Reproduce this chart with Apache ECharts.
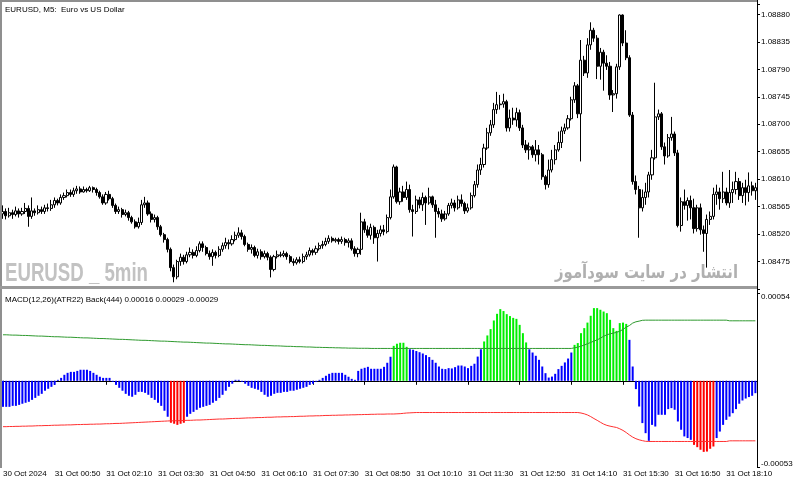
<!DOCTYPE html>
<html><head><meta charset="utf-8">
<script src="https://cdn.jsdelivr.net/npm/echarts@6/dist/echarts.min.js"></script>
<style>html,body{margin:0;padding:0;background:#fff}#c{width:800px;height:485px}</style>
</head><body><div id="c"></div><script>
const timeLabels = ['30 Oct 2024','31 Oct 00:50','31 Oct 02:10','31 Oct 03:30','31 Oct 04:50','31 Oct 06:10','31 Oct 07:30','31 Oct 08:50','31 Oct 10:10','31 Oct 11:30','31 Oct 12:50','31 Oct 14:10','31 Oct 15:30','31 Oct 16:50','31 Oct 18:10'];
const labelEvery = 16;
const priceTicks = ['1.08475','1.08520','1.08565','1.08610','1.08655','1.08700','1.08745','1.08790','1.08835','1.08880'];
const macdTicks = ['-0.00053','0.00054'];

const open = [
1.08553,1.08557,1.08550,1.08555,1.08552,1.08558,1.08553,1.08557,1.08562,1.08549,
1.08558,1.08555,1.08560,1.08557,1.08563,1.08562,1.08568,1.08575,1.08571,1.08580,
1.08583,1.08588,1.08585,1.08591,1.08594,1.08589,1.08593,1.08591,1.08596,1.08593,
1.08588,1.08581,1.08571,1.08585,1.08578,1.08567,1.08557,1.08560,1.08552,1.08555,
1.08547,1.08540,1.08532,1.08539,1.08568,1.08571,1.08553,1.08544,1.08547,1.08532,
1.08519,1.08511,1.08495,1.08465,1.08450,1.08475,1.08482,1.08475,1.08486,1.08490,
1.08485,1.08493,1.08504,1.08498,1.08488,1.08483,1.08490,1.08485,1.08495,1.08501,
1.08506,1.08504,1.08511,1.08518,1.08522,1.08516,1.08503,1.08495,1.08498,1.08485,
1.08491,1.08483,1.08488,1.08482,1.08462,1.08483,1.08486,1.08485,1.08488,1.08483,
1.08475,1.08473,1.08478,1.08475,1.08483,1.08486,1.08493,1.08490,1.08496,1.08501,
1.08503,1.08508,1.08513,1.08509,1.08511,1.08508,1.08511,1.08506,1.08509,1.08496,
1.08488,1.08495,1.08540,1.08527,1.08518,1.08531,1.08514,1.08521,1.08527,1.08524,
1.08547,1.08581,1.08630,1.08573,1.08589,1.08580,1.08593,1.08560,1.08557,1.08576,
1.08568,1.08580,1.08571,1.08581,1.08568,1.08557,1.08553,1.08545,1.08553,1.08567,
1.08571,1.08563,1.08576,1.08570,1.08558,1.08563,1.08583,1.08601,1.08625,1.08634,
1.08661,1.08686,1.08699,1.08724,1.08732,1.08733,1.08737,1.08694,1.08710,1.08707,
1.08719,1.08694,1.08666,1.08658,1.08663,1.08650,1.08658,1.08650,1.08614,1.08601,
1.08625,1.08642,1.08658,1.08670,1.08689,1.08694,1.08709,1.08740,1.08763,1.08717,
1.08805,1.08784,1.08830,1.08854,1.08841,1.08795,1.08818,1.08800,1.08795,1.08748,
1.08750,1.08794,1.08879,1.08833,1.08809,1.08715,1.08606,1.08593,1.08563,1.08580,
1.08589,1.08617,1.08645,1.08712,1.08717,1.08663,1.08648,1.08678,1.08684,1.08653,
1.08534,1.08573,1.08567,1.08575,1.08563,1.08529,1.08563,1.08527,1.08521,1.08544,
1.08549,1.08585,1.08589,1.08578,1.08589,1.08571,1.08588,1.08593,1.08606,1.08583,
1.08596,1.08588,1.08599,1.08591];
const close = [
1.08557,1.08550,1.08555,1.08552,1.08558,1.08553,1.08557,1.08562,1.08549,1.08558,
1.08555,1.08560,1.08557,1.08563,1.08562,1.08568,1.08575,1.08571,1.08580,1.08583,
1.08588,1.08585,1.08591,1.08594,1.08589,1.08593,1.08591,1.08596,1.08593,1.08588,
1.08581,1.08571,1.08585,1.08578,1.08567,1.08557,1.08560,1.08552,1.08555,1.08547,
1.08540,1.08532,1.08539,1.08568,1.08571,1.08553,1.08544,1.08547,1.08532,1.08519,
1.08511,1.08495,1.08465,1.08450,1.08475,1.08482,1.08475,1.08486,1.08490,1.08485,
1.08493,1.08504,1.08498,1.08488,1.08483,1.08490,1.08485,1.08495,1.08501,1.08506,
1.08504,1.08511,1.08518,1.08522,1.08516,1.08503,1.08495,1.08498,1.08485,1.08491,
1.08483,1.08488,1.08482,1.08462,1.08483,1.08486,1.08485,1.08488,1.08483,1.08475,
1.08473,1.08478,1.08475,1.08483,1.08486,1.08493,1.08490,1.08496,1.08501,1.08503,
1.08508,1.08513,1.08509,1.08511,1.08508,1.08511,1.08506,1.08509,1.08496,1.08488,
1.08495,1.08540,1.08527,1.08518,1.08531,1.08514,1.08521,1.08527,1.08524,1.08547,
1.08581,1.08630,1.08573,1.08589,1.08580,1.08593,1.08560,1.08557,1.08576,1.08568,
1.08580,1.08571,1.08581,1.08568,1.08557,1.08553,1.08545,1.08553,1.08567,1.08571,
1.08563,1.08576,1.08570,1.08558,1.08563,1.08583,1.08601,1.08625,1.08634,1.08661,
1.08686,1.08699,1.08724,1.08732,1.08733,1.08737,1.08694,1.08710,1.08707,1.08719,
1.08694,1.08666,1.08658,1.08663,1.08650,1.08658,1.08650,1.08614,1.08601,1.08625,
1.08642,1.08658,1.08670,1.08689,1.08694,1.08709,1.08740,1.08763,1.08717,1.08805,
1.08784,1.08830,1.08854,1.08841,1.08795,1.08818,1.08800,1.08795,1.08748,1.08750,
1.08794,1.08879,1.08833,1.08809,1.08715,1.08606,1.08593,1.08563,1.08580,1.08589,
1.08617,1.08645,1.08712,1.08717,1.08663,1.08648,1.08678,1.08684,1.08653,1.08534,
1.08573,1.08567,1.08575,1.08563,1.08529,1.08563,1.08527,1.08521,1.08544,1.08549,
1.08585,1.08589,1.08578,1.08589,1.08571,1.08588,1.08593,1.08606,1.08583,1.08596,
1.08588,1.08599,1.08591,1.08596];
const high = [
1.08567,1.08562,1.08563,1.08560,1.08565,1.08562,1.08563,1.08571,1.08567,1.08580,
1.08562,1.08567,1.08565,1.08568,1.08570,1.08576,1.08580,1.08578,1.08585,1.08588,
1.08593,1.08593,1.08596,1.08599,1.08598,1.08598,1.08596,1.08599,1.08598,1.08596,
1.08591,1.08585,1.08589,1.08591,1.08581,1.08570,1.08565,1.08563,1.08560,1.08558,
1.08550,1.08544,1.08547,1.08576,1.08581,1.08575,1.08557,1.08552,1.08550,1.08535,
1.08522,1.08514,1.08498,1.08470,1.08478,1.08488,1.08486,1.08491,1.08498,1.08495,
1.08500,1.08508,1.08508,1.08501,1.08493,1.08495,1.08493,1.08500,1.08506,1.08514,
1.08511,1.08518,1.08524,1.08531,1.08527,1.08519,1.08506,1.08503,1.08501,1.08496,
1.08495,1.08493,1.08491,1.08485,1.08486,1.08493,1.08491,1.08493,1.08491,1.08486,
1.08480,1.08482,1.08483,1.08488,1.08491,1.08498,1.08496,1.08501,1.08506,1.08509,
1.08514,1.08518,1.08516,1.08514,1.08514,1.08516,1.08514,1.08513,1.08513,1.08500,
1.08498,1.08555,1.08545,1.08534,1.08537,1.08534,1.08527,1.08534,1.08535,1.08552,
1.08593,1.08634,1.08632,1.08596,1.08599,1.08606,1.08601,1.08568,1.08583,1.08581,
1.08588,1.08583,1.08596,1.08583,1.08576,1.08563,1.08560,1.08558,1.08571,1.08578,
1.08576,1.08583,1.08585,1.08573,1.08570,1.08588,1.08607,1.08634,1.08645,1.08668,
1.08694,1.08707,1.08735,1.08753,1.08748,1.08750,1.08740,1.08724,1.08727,1.08727,
1.08724,1.08699,1.08674,1.08670,1.08666,1.08674,1.08666,1.08653,1.08617,1.08642,
1.08658,1.08666,1.08688,1.08696,1.08701,1.08715,1.08745,1.08769,1.08766,1.08838,
1.08812,1.08841,1.08867,1.08858,1.08846,1.08825,1.08822,1.08813,1.08802,1.08756,
1.08799,1.08880,1.08880,1.08854,1.08813,1.08720,1.08616,1.08599,1.08593,1.08604,
1.08622,1.08658,1.08768,1.08724,1.08720,1.08670,1.08684,1.08712,1.08688,1.08658,
1.08580,1.08593,1.08580,1.08583,1.08578,1.08568,1.08570,1.08534,1.08552,1.08557,
1.08596,1.08601,1.08596,1.08622,1.08596,1.08625,1.08606,1.08622,1.08612,1.08604,
1.08609,1.08621,1.08606,1.08604];
const low = [
1.08545,1.08544,1.08547,1.08545,1.08549,1.08547,1.08550,1.08553,1.08532,1.08545,
1.08550,1.08552,1.08553,1.08553,1.08557,1.08558,1.08563,1.08567,1.08568,1.08576,
1.08580,1.08581,1.08581,1.08586,1.08586,1.08588,1.08588,1.08589,1.08588,1.08583,
1.08578,1.08568,1.08568,1.08575,1.08563,1.08553,1.08553,1.08547,1.08549,1.08542,
1.08537,1.08529,1.08529,1.08535,1.08563,1.08550,1.08539,1.08539,1.08527,1.08516,
1.08506,1.08490,1.08459,1.08441,1.08446,1.08468,1.08470,1.08472,1.08482,1.08480,
1.08482,1.08490,1.08491,1.08485,1.08478,1.08468,1.08480,1.08482,1.08491,1.08496,
1.08495,1.08501,1.08508,1.08514,1.08511,1.08500,1.08491,1.08488,1.08482,1.08480,
1.08478,1.08480,1.08477,1.08449,1.08459,1.08480,1.08482,1.08482,1.08478,1.08472,
1.08468,1.08470,1.08472,1.08472,1.08478,1.08483,1.08485,1.08486,1.08493,1.08496,
1.08500,1.08504,1.08506,1.08506,1.08503,1.08504,1.08501,1.08498,1.08493,1.08483,
1.08482,1.08486,1.08522,1.08514,1.08511,1.08504,1.08475,1.08516,1.08518,1.08521,
1.08544,1.08578,1.08570,1.08568,1.08573,1.08576,1.08555,1.08516,1.08553,1.08562,
1.08558,1.08535,1.08568,1.08563,1.08514,1.08547,1.08540,1.08542,1.08550,1.08562,
1.08557,1.08560,1.08565,1.08553,1.08555,1.08560,1.08580,1.08596,1.08617,1.08629,
1.08658,1.08681,1.08694,1.08717,1.08724,1.08727,1.08688,1.08688,1.08699,1.08696,
1.08689,1.08661,1.08653,1.08642,1.08645,1.08639,1.08634,1.08609,1.08593,1.08596,
1.08621,1.08634,1.08655,1.08661,1.08684,1.08691,1.08706,1.08735,1.08710,1.08639,
1.08779,1.08776,1.08822,1.08835,1.08774,1.08773,1.08755,1.08789,1.08740,1.08720,
1.08742,1.08789,1.08828,1.08805,1.08712,1.08601,1.08585,1.08514,1.08557,1.08568,
1.08580,1.08609,1.08642,1.08707,1.08658,1.08634,1.08645,1.08673,1.08648,1.08531,
1.08524,1.08560,1.08542,1.08544,1.08521,1.08524,1.08519,1.08491,1.08465,1.08535,
1.08544,1.08568,1.08560,1.08571,1.08567,1.08563,1.08571,1.08585,1.08576,1.08571,
1.08567,1.08573,1.08583,1.08576];

const hist = [
-0.00016,-0.00016,-0.00016,-0.000154,-0.000154,-0.000148,-0.000141,-0.000135,-0.000129,-0.000117,
-0.000105,-0.000092,-0.00008,-0.000061,-0.000049,-0.000037,-0.000025,0.000006,0.000018,0.000037,
0.000049,0.000055,0.000055,0.000061,0.000068,0.000068,0.000068,0.000061,0.000049,0.000037,
0.000025,0.000018,0.000018,0.000018,-0.000006,-0.000025,-0.000043,-0.000061,-0.00008,-0.000092,
-0.000098,-0.000086,-0.000068,-0.000068,-0.000074,-0.000086,-0.000105,-0.000117,-0.000135,-0.000154,
-0.000184,-0.000221,-0.000258,-0.000264,-0.000271,-0.000264,-0.000258,-0.000221,-0.000203,-0.000191,
-0.000178,-0.000166,-0.00016,-0.000154,-0.000148,-0.000135,-0.000123,-0.000105,-0.000086,-0.000061,
-0.000037,-0.000018,0.000006,0.000006,-0.000006,-0.000018,-0.000031,-0.000043,-0.000049,-0.000055,
-0.000068,-0.000086,-0.000098,-0.000092,-0.00008,-0.000074,-0.000074,-0.000068,-0.000068,-0.000061,
-0.000061,-0.000055,-0.000049,-0.000043,-0.000037,-0.000025,-0.000018,-0.000006,0.000006,0.000018,
0.000031,0.000043,0.000049,0.000049,0.000049,0.000049,0.000037,0.000025,0.000012,0.000006,
0.000061,0.000074,0.00008,0.000086,0.000074,0.000074,0.000074,0.000074,0.000086,0.000111,
0.000148,0.000215,0.000228,0.000234,0.000234,0.000209,0.000194,0.000191,0.000183,0.000176,
0.000168,0.000158,0.000146,0.000129,0.000111,0.000088,0.000074,0.000072,0.000078,0.000076,
0.000084,0.000094,0.000094,0.000088,0.000078,0.000092,0.000105,0.000149,0.000194,0.000242,
0.000279,0.000318,0.000371,0.000412,0.000441,0.000429,0.00041,0.000398,0.000387,0.000381,
0.000344,0.000293,0.000236,0.000194,0.000174,0.000154,0.000129,0.000088,0.000047,0.00002,
0.000026,0.000043,0.000072,0.000092,0.000113,0.000137,0.000174,0.000221,0.000232,0.000293,
0.000324,0.000358,0.0004,0.000447,0.000447,0.000437,0.000426,0.000416,0.000375,0.000324,
0.000307,0.000355,0.000358,0.00035,0.000252,0.000088,-0.000051,-0.000158,-0.00026,-0.000322,
-0.000369,-0.000271,-0.000281,-0.000209,-0.000209,-0.000209,-0.000174,-0.000168,-0.000178,-0.00025,
-0.000301,-0.000342,-0.000352,-0.000363,-0.000394,-0.000408,-0.000424,-0.000437,-0.000435,-0.000418,
-0.000404,-0.000352,-0.000312,-0.000271,-0.00024,-0.00022,-0.000199,-0.000174,-0.000141,-0.000121,
-0.000109,-0.0001,-0.000092,-0.000076];
const upperBand = [
0.000283,0.000283,0.000282,0.000281,0.000281,0.00028,0.000279,0.000279,0.000278,0.000277,
0.000276,0.000275,0.000275,0.000274,0.000273,0.000272,0.000271,0.000271,0.00027,0.000269,
0.000268,0.000268,0.000267,0.000266,0.000265,0.000264,0.000264,0.000263,0.000262,0.000261,
0.00026,0.00026,0.000259,0.000258,0.000257,0.000256,0.000255,0.000255,0.000254,0.000253,
0.000252,0.000251,0.00025,0.000249,0.000249,0.000248,0.000247,0.000246,0.000245,0.000244,
0.000244,0.000243,0.000242,0.000241,0.00024,0.000239,0.000238,0.000238,0.000237,0.000236,
0.000235,0.000234,0.000233,0.000232,0.000232,0.000231,0.00023,0.000229,0.000228,0.000227,
0.000227,0.000226,0.000225,0.000224,0.000223,0.000222,0.000222,0.000221,0.00022,0.000219,
0.000218,0.000218,0.000217,0.000216,0.000215,0.000215,0.000214,0.000213,0.000212,0.000212,
0.000211,0.00021,0.00021,0.000209,0.000208,0.000208,0.000207,0.000206,0.000206,0.000205,
0.000205,0.000204,0.000204,0.000203,0.000203,0.000202,0.000202,0.000201,0.000201,0.000201,
0.0002,0.0002,0.0002,0.0002,0.000199,0.000199,0.000199,0.000199,0.000199,0.000199,
0.000199,0.000199,0.000199,0.000199,0.000199,0.000199,0.000199,0.000199,0.000199,0.000199,
0.000199,0.000199,0.000199,0.000199,0.000199,0.000199,0.000199,0.000199,0.000199,0.000199,
0.000199,0.000199,0.000199,0.000199,0.000199,0.000199,0.000199,0.000199,0.000199,0.000199,
0.000199,0.000199,0.000199,0.000199,0.000199,0.000199,0.000199,0.000199,0.000199,0.000199,
0.000199,0.000199,0.000199,0.000199,0.000199,0.000199,0.000199,0.000199,0.000199,0.000199,
0.000199,0.000199,0.000199,0.000199,0.000199,0.000199,0.000199,0.000203,0.000207,0.000213,
0.00022,0.000228,0.000236,0.000244,0.000252,0.000262,0.000274,0.000283,0.000289,0.000293,
0.000298,0.000305,0.000316,0.00033,0.00034,0.000355,0.000363,0.000367,0.000372,0.000373,
0.000373,0.000373,0.000373,0.000373,0.000373,0.000373,0.000373,0.000373,0.000373,0.000373,
0.000373,0.000373,0.000373,0.000373,0.000373,0.000373,0.000373,0.000373,0.000373,0.000373,
0.000373,0.000373,0.000373,0.000373,0.000373,0.000369,0.000369,0.000369,0.000369,0.000369,
0.000369,0.000369,0.000369,0.000369];
const lowerBand = [
-0.000282,-0.000282,-0.000281,-0.000281,-0.00028,-0.00028,-0.000279,-0.000279,-0.000278,-0.000278,
-0.000277,-0.000276,-0.000276,-0.000275,-0.000275,-0.000274,-0.000273,-0.000273,-0.000272,-0.000272,
-0.000271,-0.000271,-0.00027,-0.000269,-0.000269,-0.000268,-0.000268,-0.000267,-0.000267,-0.000266,
-0.000266,-0.000265,-0.000264,-0.000264,-0.000263,-0.000262,-0.000262,-0.000261,-0.00026,-0.000259,
-0.000258,-0.000257,-0.000256,-0.000255,-0.000254,-0.000253,-0.000252,-0.000251,-0.00025,-0.000249,
-0.000248,-0.000247,-0.000246,-0.000246,-0.000245,-0.000245,-0.000244,-0.000243,-0.000243,-0.000242,
-0.000241,-0.000241,-0.00024,-0.000239,-0.000238,-0.000237,-0.000236,-0.000235,-0.000235,-0.000234,
-0.000233,-0.000232,-0.000231,-0.000231,-0.00023,-0.000229,-0.000228,-0.000228,-0.000227,-0.000226,
-0.000226,-0.000225,-0.000224,-0.000224,-0.000223,-0.000222,-0.000222,-0.000221,-0.000221,-0.00022,
-0.00022,-0.000219,-0.000218,-0.000218,-0.000217,-0.000216,-0.000216,-0.000215,-0.000215,-0.000214,
-0.000213,-0.000213,-0.000212,-0.000212,-0.000211,-0.000211,-0.00021,-0.00021,-0.000209,-0.000209,
-0.000208,-0.000208,-0.000207,-0.000207,-0.000206,-0.000206,-0.000205,-0.000205,-0.000205,-0.000204,
-0.000204,-0.000204,-0.000203,-0.000202,-0.0002,-0.000198,-0.000197,-0.000196,-0.000195,-0.000195,
-0.000195,-0.000195,-0.000195,-0.000195,-0.000195,-0.000195,-0.000195,-0.000195,-0.000195,-0.000195,
-0.000195,-0.000195,-0.000195,-0.000195,-0.000195,-0.000195,-0.000195,-0.000195,-0.000195,-0.000195,
-0.000195,-0.000195,-0.000195,-0.000195,-0.000195,-0.000195,-0.000195,-0.000195,-0.000195,-0.000195,
-0.000195,-0.000195,-0.000195,-0.000195,-0.000195,-0.000195,-0.000195,-0.000195,-0.000195,-0.000195,
-0.000195,-0.000195,-0.000195,-0.000195,-0.000195,-0.000195,-0.000195,-0.000195,-0.000195,-0.000198,
-0.000203,-0.00021,-0.00022,-0.000232,-0.000243,-0.000255,-0.000266,-0.000274,-0.000279,-0.000283,
-0.000287,-0.000295,-0.000305,-0.000318,-0.000333,-0.000346,-0.000356,-0.000363,-0.000368,-0.000372,
-0.000373,-0.000373,-0.000373,-0.000373,-0.000373,-0.000373,-0.000373,-0.000373,-0.000373,-0.000373,
-0.000373,-0.000373,-0.000373,-0.000373,-0.000373,-0.000373,-0.000373,-0.000373,-0.000373,-0.000373,
-0.000373,-0.000373,-0.000373,-0.000373,-0.000373,-0.000369,-0.000369,-0.000369,-0.000369,-0.000369,
-0.000369,-0.000369,-0.000369,-0.000369];

const titleMain = 'EURUSD, M5:  Euro vs US Dollar';
const titleMacd = 'MACD(12,26)(ATR22) Back(444) 0.00016 0.00029 -0.00029';
const watermark = 'EURUSD _ 5min';
const watermarkFa = 'انتشار در سایت سودآموز';

const FONT = '"Liberation Sans", Arial, sans-serif';
const cats = close.map((_, i) => i);
const candles = open.map((o, i) => [o, close[i], low[i], high[i]]);

function fitScaleX(text, font, target) {
  const ctx = document.createElement('canvas').getContext('2d');
  ctx.font = font;
  const w = ctx.measureText(text).width;
  return w > 0 ? target / w : 1;
}
const wmFont = 'bold 25px "Liberation Sans"';
const faFont = 'bold 18px "DejaVu Sans"';

const chart = echarts.init(document.getElementById('c'), null, {renderer: 'canvas'});
const isLabel = (idx) => idx % labelEvery === 0;
chart.setOption({
  animation: false,
  backgroundColor: '#ffffff',
  grid: [
    {left: 1, width: 756, top: 4, height: 285},
    {left: 1, width: 756, top: 293, height: 174}
  ],
  xAxis: [
    {type: 'category', gridIndex: 0, data: cats, boundaryGap: true, show: false},
    {type: 'category', gridIndex: 1, data: cats, boundaryGap: true,
     axisLine: {show: true, lineStyle: {color: '#000', width: 1}},
     axisTick: {show: true, interval: (i) => isLabel(i), alignWithLabel: true, length: 4, lineStyle: {color: '#000'}},
     axisLabel: {interval: (i) => isLabel(i), formatter: (v, i) => isLabel(i) ? timeLabels[i / labelEvery] : '',
       align: 'left', margin: 3, fontSize: 8, fontFamily: FONT, color: '#000'},
     splitLine: {show: false}}
  ],
  yAxis: [
    {type: 'value', gridIndex: 0, position: 'right', min: 1.08430, max: 1.08897, interval: 0.00045,
     axisLine: {show: true, lineStyle: {color: '#000'}},
     axisTick: {show: true, length: 3, lineStyle: {color: '#000'}},
     splitLine: {show: false},
     axisLabel: {margin: 4, fontSize: 8, fontFamily: FONT, color: '#000',
       formatter: (v) => { const s = v.toFixed(5); return priceTicks.includes(s) ? s : ''; }}},
    {type: 'value', gridIndex: 1, position: 'right', min: -0.00053, max: 0.00054, interval: 0.00107,
     axisLine: {show: true, lineStyle: {color: '#000'}},
     axisTick: {show: true, length: 3, lineStyle: {color: '#000'}},
     splitLine: {show: false},
     axisLabel: {margin: 4, fontSize: 8, fontFamily: FONT, color: '#000',
       formatter: (v) => { const s = v.toFixed(5); if (s === macdTicks[1]) return '{t|' + s + '}'; if (s === macdTicks[0]) return '{b|' + s + '}'; return ''; },
       rich: {t: {padding: [8, 0, 0, 0], fontSize: 8, fontFamily: FONT, color: '#000'},
              b: {padding: [0, 0, 6, 0], fontSize: 8, fontFamily: FONT, color: '#000'}}}}
  ],
  series: [
    {type: 'candlestick', xAxisIndex: 0, yAxisIndex: 0, data: candles, barWidth: 2.6,
     itemStyle: {color: '#ffffff', color0: '#000000', borderColor: '#000000', borderColor0: '#000000', borderWidth: 1}},
    {type: 'bar', xAxisIndex: 1, yAxisIndex: 1, data: hist, barWidth: 2,
     itemStyle: {color: (p) => {
       const v = hist[p.dataIndex];
       if (v > upperBand[p.dataIndex]) return '#00ee00';
       if (v < lowerBand[p.dataIndex]) return '#ff0000';
       return '#0000ff';
     }}},
    {type: 'line', xAxisIndex: 1, yAxisIndex: 1, data: upperBand, symbol: 'none', lineStyle: {color: '#2f9a2f', width: 1}},
    {type: 'line', xAxisIndex: 1, yAxisIndex: 1, data: lowerBand, symbol: 'none', lineStyle: {color: '#ff3030', width: 1}}
  ],
  graphic: [
    {type: 'text', x: 5, y: 274, z: 0, silent: true, scaleX: fitScaleX(watermark, wmFont, 143),
     style: {text: watermark, font: wmFont, fill: '#c2c2c2', align: 'left', verticalAlign: 'middle', textAlign: 'left', textVerticalAlign: 'middle'}},
    {type: 'text', x: 738, y: 273, z: 0, silent: true, scaleX: fitScaleX(watermarkFa, faFont, 183),
     style: {text: watermarkFa, font: faFont, fill: '#b0b0b0', align: 'right', verticalAlign: 'middle', textAlign: 'right', textVerticalAlign: 'middle'}},
    {type: 'text', x: 5, y: 10, z: 50, silent: true,
     style: {text: titleMain, font: '8px ' + FONT, fill: '#000', align: 'left', verticalAlign: 'middle', textAlign: 'left', textVerticalAlign: 'middle'}},
    {type: 'text', x: 5, y: 300, z: 50, silent: true,
     style: {text: titleMacd, font: '8px ' + FONT, fill: '#000', align: 'left', verticalAlign: 'middle', textAlign: 'left', textVerticalAlign: 'middle'}},
    {type: 'rect', z: 100, silent: true, shape: {x: 0, y: 0, width: 757, height: 2}, style: {fill: '#8f8f8f'}},
    {type: 'rect', z: 100, silent: true, shape: {x: 0, y: 0, width: 2, height: 468}, style: {fill: '#8f8f8f'}},
    {type: 'rect', z: 100, silent: true, shape: {x: 0, y: 286, width: 757, height: 3}, style: {fill: '#9a9a9a'}},
    {type: 'line', z: 100, silent: true, shape: {x1: 757.5, y1: 0, x2: 757.5, y2: 468}, style: {stroke: '#000', lineWidth: 1}}
  ]
});
</script></body></html>
